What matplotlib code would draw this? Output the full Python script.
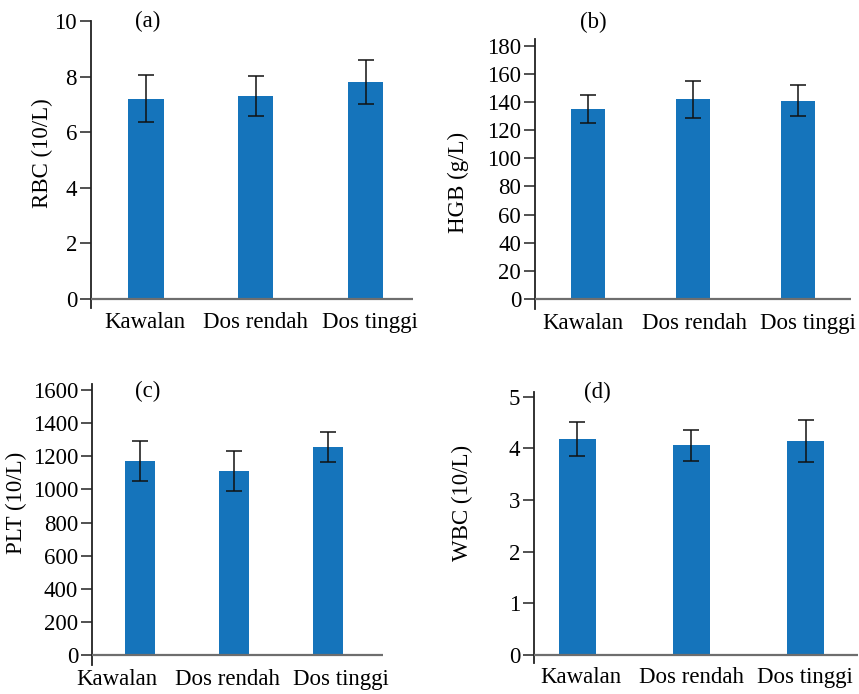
import numpy as np
import matplotlib
matplotlib.use("Agg")
import matplotlib.pyplot as plt

plt.rcParams['font.family'] = ['Liberation Serif', 'DejaVu Serif']

groups = ["Kawalan", "Dos rendah", "Dos tinggi"]

rbc = [7.2, 7.3, 7.8]
rbc_err = [0.85, 0.72, 0.8]
hgb = [135, 142, 141]
hgb_err = [10, 13, 11]
plt_vals = [1170, 1110, 1255]
plt_err = [120, 122, 90]
wbc = [4.18, 4.06, 4.14]
wbc_err = [0.33, 0.30, 0.40]

bar_color = "#1574BB"
W, H = 859, 694
FS = 16.5


def add_ax(fig, left, right, top, bottom):
    return fig.add_axes([left / W, 1 - bottom / H, (right - left) / W, (bottom - top) / H])


def panel(ax, vals, errs, ylim, yticks, xlim, ylabel, lab_xy, tag, tag_xy, tick_shift):
    x = np.arange(len(groups))
    ax.bar(x, vals, width=0.32, color=bar_color, zorder=2)
    ax.errorbar(x, vals, yerr=errs, fmt="none", ecolor="#111111",
                elinewidth=1.1, capsize=6, capthick=1.1, zorder=3)
    ax.axhline(0, color="#6e6e6e", lw=1.6, zorder=4)
    ax.set_xlim(*xlim)
    ax.set_ylim(*ylim)
    ax.set_yticks(yticks)
    ax.set_xticks(x + np.array(tick_shift))
    ax.set_xticklabels(groups)
    for s in ["top", "right", "bottom"]:
        ax.spines[s].set_visible(False)
    ax.spines["left"].set_color("#222222")
    ax.spines["left"].set_linewidth(1.3)
    ax.tick_params(axis="y", direction="out", length=8, width=1.1,
                   color="#222222", pad=2, labelsize=FS)
    ax.tick_params(axis="x", length=0, pad=3, labelsize=FS)
    ax.set_ylabel(ylabel, fontsize=FS, va="center")
    ax.yaxis.set_label_coords(*lab_xy)
    ax.text(tag_xy[0], tag_xy[1], tag, transform=ax.transAxes,
            ha="center", va="center", fontsize=FS)


fig = plt.figure(figsize=(W / 100, H / 100), dpi=100)

ax1 = add_ax(fig, 91, 413, 21, 308)
panel(ax1, rbc, rbc_err, (-0.33, 10), [0, 2, 4, 6, 8, 10], (-0.5, 2.43),
      "RBC (10/L)", (-0.152, 0.54), "(a)", (0.177, 1.0), [-0.01, 0, 0.036])

ax2 = add_ax(fig, 535, 851, 39, 309)
panel(ax2, hgb, hgb_err, (-7.1, 184.8), list(range(0, 181, 20)), (-0.5, 2.5),
      "HGB (g/L)", (-0.242, 0.467), "(b)", (0.186, 1.063), [-0.05, 0.01, 0.09])

ax3 = add_ax(fig, 92, 383, 384, 665)
panel(ax3, plt_vals, plt_err, (-60, 1636), list(range(0, 1601, 200)), (-0.51, 2.59),
      "PLT (10/L)", (-0.258, 0.577), "(c)", (0.192, 0.975), [-0.245, -0.064, 0.14])

ax4 = add_ax(fig, 534, 858, 392, 663)
panel(ax4, wbc, wbc_err, (-0.155, 5.09), [0, 1, 2, 3, 4, 5], (-0.38, 2.46),
      "WBC (10/L)", (-0.221, 0.59), "(d)", (0.195, 1.0), [0.03, 0, -0.01])

fig.savefig("out.png", dpi=100)
